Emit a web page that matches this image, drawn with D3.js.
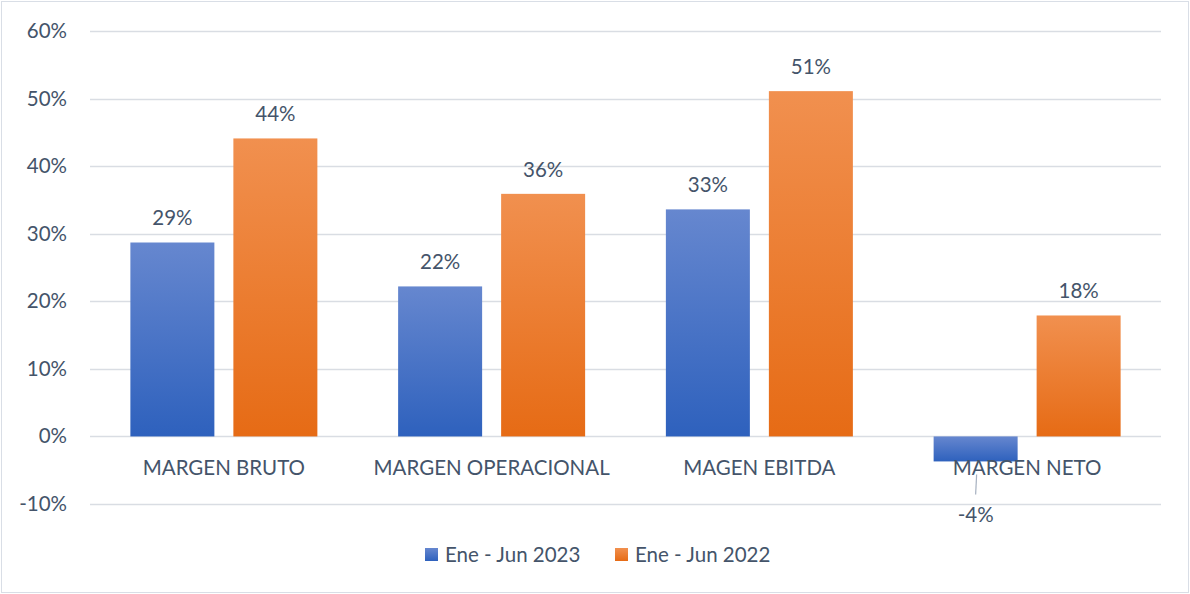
<!DOCTYPE html>
<html>
<head>
<meta charset="utf-8">
<script src="https://cdn.jsdelivr.net/npm/d3@7"></script>
<style>
  body { margin: 0; background: #fff; }
  text { font-family: Lato, "Noto Sans", sans-serif; fill: #44546a; }
</style>
</head>
<body>
<div id="chart"></div>
<script>
var categories = ["MARGEN BRUTO", "MARGEN OPERACIONAL", "MAGEN EBITDA", "MARGEN NETO"];
var seriesNames = ["Ene - Jun 2023", "Ene - Jun 2022"];
var values2023 = [0.287, 0.222, 0.336, -0.037];
var values2022 = [0.441, 0.359, 0.511, 0.179];
var labels2023 = ["29%", "22%", "33%", "-4%"];
var labels2022 = ["44%", "36%", "51%", "18%"];
var yTicks = [-0.1, 0, 0.1, 0.2, 0.3, 0.4, 0.5, 0.6];

var width = 1190, height = 594;
var margin = {top: 31, right: 29, bottom: 90, left: 90};
var fontSize = 20.5;

var svg = d3.select("#chart").append("svg")
    .attr("width", width)
    .attr("height", height);

// outer frame
svg.append("rect")
    .attr("x", 1.5).attr("y", 1.5)
    .attr("width", width - 3).attr("height", height - 3)
    .attr("fill", "#fff")
    .attr("stroke", "#d9dee6");

var defs = svg.append("defs");
var grads = [
  {id: "gBlue", top: "#6687cf", bottom: "#2e61bd"},
  {id: "gOrange", top: "#f1904f", bottom: "#e66b15"}
];
grads.forEach(function(g) {
  var lg = defs.append("linearGradient").attr("id", g.id)
      .attr("x1", 0).attr("y1", 0).attr("x2", 0).attr("y2", 1);
  lg.append("stop").attr("offset", "0%").attr("stop-color", g.top);
  lg.append("stop").attr("offset", "100%").attr("stop-color", g.bottom);
});

var x = d3.scaleBand()
    .domain(categories)
    .range([margin.left, width - margin.right]);

var y = d3.scaleLinear()
    .domain([-0.1, 0.6])
    .range([504, 31]);

// gridlines
svg.append("g").selectAll("line")
  .data(yTicks).enter().append("line")
    .attr("x1", margin.left)
    .attr("x2", width - margin.right)
    .attr("y1", function(d) { return Math.round(y(d)) + 0.5; })
    .attr("y2", function(d) { return Math.round(y(d)) + 0.5; })
    .attr("stroke", "#d9dde3")
    .attr("stroke-width", 1.5);

// y tick labels (plain hyphen for negatives, as in the original)
var yAxis = d3.axisLeft(y).tickValues(yTicks).tickSize(0).tickPadding(0)
    .tickFormat(function(d) { return Math.round(d * 100) + "%"; });
var yg = svg.append("g")
    .attr("transform", "translate(67,0)")
    .call(yAxis);
yg.select(".domain").remove();
yg.selectAll("text")
    .attr("font-size", fontSize)
    .style("font-family", "Lato, 'Noto Sans', sans-serif")
    .attr("fill", "#44546a");

var barW = 84, gap = 19;
var series = [
  {vals: values2023, labels: labels2023, fill: "url(#gBlue)", off: -(gap / 2 + barW)},
  {vals: values2022, labels: labels2022, fill: "url(#gOrange)", off: gap / 2}
];

series.forEach(function(s) {
  svg.append("g").selectAll("rect")
    .data(categories).enter().append("rect")
      .attr("x", function(c) { return x(c) + x.bandwidth() / 2 + s.off; })
      .attr("width", barW)
      .attr("y", function(c, i) { return y(Math.max(0, s.vals[i])); })
      .attr("height", function(c, i) { return Math.abs(y(s.vals[i]) - y(0)); })
      .attr("fill", s.fill);
});

// category labels
svg.append("g").selectAll("text")
  .data(categories).enter().append("text")
    .attr("x", function(c) { return x(c) + x.bandwidth() / 2; })
    .attr("y", 475)
    .attr("text-anchor", "middle")
    .attr("font-size", fontSize)
    .text(function(c) { return c; });

// value labels
series.forEach(function(s) {
  svg.append("g").selectAll("text")
    .data(categories).enter().append("text")
      .attr("x", function(c) { return x(c) + x.bandwidth() / 2 + s.off + barW / 2; })
      .attr("y", function(c, i) {
        return s.vals[i] >= 0 ? y(s.vals[i]) - 17 : y(s.vals[i]) + 61;
      })
      .attr("text-anchor", "middle")
      .attr("font-size", fontSize)
      .text(function(c, i) { return s.labels[i]; });
});

// leader line for negative label
categories.forEach(function(c, i) {
  if (values2023[i] < 0) {
    var cx = x(c) + x.bandwidth() / 2 + series[0].off + barW / 2;
    svg.append("line")
      .attr("x1", cx + 1).attr("y1", y(values2023[i]) + 13)
      .attr("x2", cx).attr("y2", y(values2023[i]) + 33)
      .attr("stroke", "#a6b0c0")
      .attr("stroke-width", 1.2);
  }
});

// legend
var legend = svg.append("g");
var legendX = [425, 615];
series.forEach(function(s, i) {
  legend.append("rect")
    .attr("x", legendX[i]).attr("y", 548)
    .attr("width", 13).attr("height", 13)
    .attr("fill", i === 0 ? "url(#gBlue)" : "url(#gOrange)");
  legend.append("text")
    .attr("x", legendX[i] + 20).attr("y", 562)
    .attr("font-size", fontSize)
    .text(seriesNames[i]);
});
</script>
</body>
</html>
